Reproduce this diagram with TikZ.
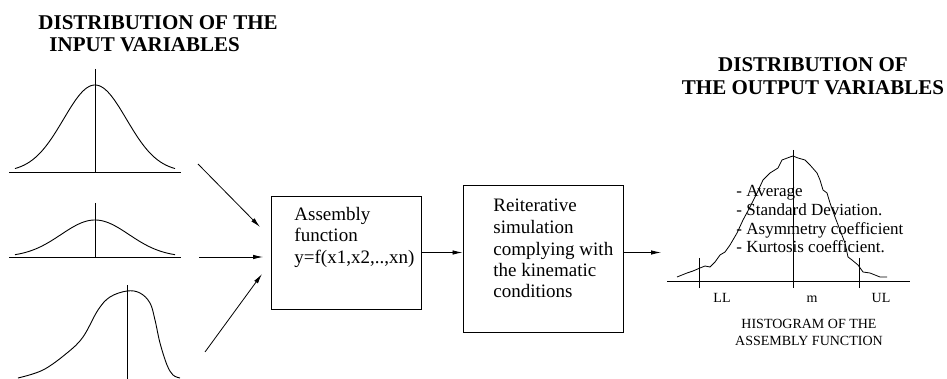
\documentclass[tikz,border=0pt]{standalone}
\usepackage{fontspec}
\setmainfont{Liberation Serif}
\usetikzlibrary{arrows.meta}
\begin{document}
\begin{tikzpicture}[x=1pt,y=-1pt, line width=0.9pt,
  arr/.style={-{Latex[length=10pt,width=4.5pt]}, line width=0.8pt},
  boxstyle/.style={draw, line width=0.9pt, inner sep=0},
  ttl/.style={font=\fontsize{21}{22}\selectfont\bfseries, inner sep=0},
  boxtxt/.style={font=\fontsize{19}{20}\selectfont, inner sep=0, anchor=base west},
  stat/.style={font=\fontsize{17}{18}\selectfont, inner sep=0, anchor=base west},
  smalltxt/.style={font=\fontsize{14}{15}\selectfont, inner sep=0, anchor=base},
]
\useasboundingbox (0,0) rectangle (947,379);

% titles
\node[ttl, anchor=base west] (t1) at (38,30) {DISTRIBUTION OF THE};
\node[ttl, anchor=base west] (t2) at (49,52) {INPUT VARIABLES};
\node[ttl, anchor=base] (t3) at (813,72) {DISTRIBUTION OF};
\node[ttl, anchor=base] (t4) at (813,95) {THE OUTPUT VARIABLES};

% input distributions
\draw (9,172) -- (181,172);
\draw (95,69) -- (95,172);
\draw plot[domain=15:175, samples=90, smooth] (\x,{172-87*exp(-((\x-95)^2)/1984.5)});

\draw (9,257) -- (181,257);
\draw (95,203) -- (95,257);
\draw plot[domain=15:175, samples=90, smooth] (\x,{257-37*exp(-((\x-95)^2)/2312)});

\draw (127,285) -- (127,379);
\draw plot[smooth, tension=0.6] coordinates {(18,378) (43,370) (67,353) (83,337) (98,310) (110,297) (127,291) (140,293) (150,303) (155,320) (160,343) (167,365) (173,375) (180,378)};

% boxes
\node[boxstyle, minimum width=150pt, minimum height=113pt] (b1) at (346,252.5) {};
\node[boxtxt] (b1a) at (294,221) {Assembly};
\node[boxtxt] (b1b) at (294,242) {function};
\node[boxtxt] (b1c) at (294,263) {y=f(x1,x2,..,xn)};

\node[boxstyle, minimum width=160pt, minimum height=147pt] (b2) at (543,258.5) {};
\node[boxtxt] (b2a) at (493,212) {Reiterative};
\node[boxtxt] (b2b) at (493,233.5) {simulation};
\node[boxtxt] (b2c) at (493,255) {complying with};
\node[boxtxt] (b2d) at (493,276.5) {the kinematic};
\node[boxtxt] (b2e) at (493,298) {conditions};

% arrows
\coordinate (s1) at (198,164);
\coordinate (e1) at (260,227);
\coordinate (s2) at (199,257);
\coordinate (e2) at (263,257);
\coordinate (s3) at (205,352);
\coordinate (e3) at (262,274);
\coordinate (e4) at (661,252.5);
\draw[arr] (s1) -- (e1);
\draw[arr] (s2) -- (e2);
\draw[arr] (s3) -- (e3);
\draw[arr] (b1.east |- 0,252.5) -- (b2.west |- 0,252.5);
\draw[arr] (b2.east |- e4) -- (e4);

% histogram
\draw (667,281) -- (910,281);
\draw (793,150) -- (793,288);
\draw (699,258) -- (699,288);
\draw (859,258) -- (859,288);
\draw[line width=0.8pt] plot coordinates {(677,277) (687,273) (693,271) (700,268) (705,266) (710,267) (715,262) (720,255) (725,252) (730,245) (737,233) (743,220) (750,207) (757,193) (763,180) (770,173) (778,168) (782,160) (790,157) (793,156) (798,158) (805,160) (810,165) (817,173) (820,180) (823,190) (827,193) (830,203) (835,217) (840,230) (845,243) (848,257) (852,260) (858,265) (863,272) (870,273) (880,277) (887,277)};

\node[stat] (s_a) at (736,197) {- Average};
\node[stat] (s_b) at (736,216) {- Standard Deviation.};
\node[stat] (s_c) at (736,234.5) {- Asymmetry coefficient};
\node[stat] (s_d) at (736,253) {- Kurtosis coefficient.};

\node[smalltxt] (ll) at (722,302) {LL};
\node[smalltxt] (mm) at (812,302) {m};
\node[smalltxt] (ul) at (881,302) {UL};
\node[smalltxt] (h1) at (809,328) {HISTOGRAM OF THE};
\node[smalltxt] (h2) at (809,345) {ASSEMBLY FUNCTION};
\end{tikzpicture}
\end{document}
